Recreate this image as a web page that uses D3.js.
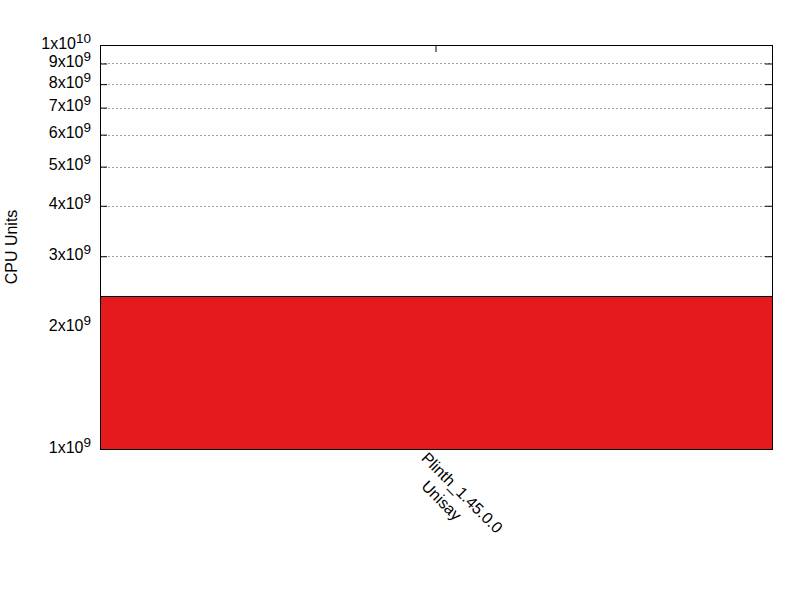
<!DOCTYPE html>
<html>
<head>
<meta charset="utf-8">
<script src="https://cdn.jsdelivr.net/npm/d3@7/dist/d3.min.js"></script>
<style>
  html, body { margin: 0; padding: 0; background: #fff; }
  svg { display: block; font-family: "Liberation Sans", Arial, sans-serif; }
</style>
</head>
<body>
<svg id="chart" width="800" height="600"></svg>
<script>
// ---- data ----
const categories = ["Plinth_1.45.0.0\nUnisay"];
const cpuUnits = [2.385e9];
const yTickValues = [1e9, 2e9, 3e9, 4e9, 5e9, 6e9, 7e9, 8e9, 9e9, 1e10];
const yTickMantissa = ["1", "2", "3", "4", "5", "6", "7", "8", "9", "1"];
const yTickExponent = ["9", "9", "9", "9", "9", "9", "9", "9", "9", "10"];
const yAxisTitle = "CPU Units";

(function () {
// ---- layout ----
const mLeft = 100, mRight = 772, mTop = 45, mBottom = 449;

const svg = d3.select("#chart");

const x = d3.scaleBand().domain(categories).range([mLeft, mRight]).padding(0);
const y = d3.scaleLog().domain([1e9, 1e10]).range([mBottom, mTop]);

// grid lines
svg.append("g").attr("class", "grid")
  .selectAll("line")
  .data(yTickValues.filter(v => v > 1e9 && v < 1e10))
  .join("line")
  .attr("x1", mLeft).attr("x2", mRight)
  .attr("y1", d => Math.round(y(d)) + 0.5)
  .attr("y2", d => Math.round(y(d)) + 0.5)
  .attr("stroke", "#a0a0a0")
  .attr("stroke-width", 1)
  .attr("stroke-dasharray", "2,2");

// left axis
const yAxisL = d3.axisLeft(y).tickValues(yTickValues).tickSize(-7).tickPadding(9).tickFormat(() => "");
const gL = svg.append("g").attr("transform", `translate(${mLeft},0)`).call(yAxisL);
gL.select(".domain").remove();
gL.selectAll(".tick line").attr("stroke", "#000");
gL.selectAll(".tick text")
  .attr("font-size", 16)
  .attr("fill", "#000")
  .attr("font-family", "Liberation Sans, Arial, sans-serif")
  .attr("dy", "0.2em")
  .each(function (d) {
    const t = d3.select(this);
    const idx = yTickValues.indexOf(d);
    t.text(null);
    t.append("tspan").text(yTickMantissa[idx] + "x10");
    t.append("tspan").attr("font-size", 13.5).attr("dy", -6).text(yTickExponent[idx]);
  });

// right axis
const yAxisR = d3.axisRight(y).tickValues(yTickValues).tickSize(-7).tickFormat(() => "");
const gR = svg.append("g").attr("transform", `translate(${mRight},0)`).call(yAxisR);
gR.select(".domain").remove();
gR.selectAll(".tick line").attr("stroke", "#000");

// top / bottom x ticks
const xAxisT = d3.axisTop(x).tickSize(-7).tickFormat(() => "");
const gT = svg.append("g").attr("transform", `translate(0,${mTop})`).call(xAxisT);
gT.select(".domain").remove();
gT.selectAll(".tick line").attr("stroke", "#000");
const xAxisB = d3.axisBottom(x).tickSize(-7).tickFormat(() => "");
const gB = svg.append("g").attr("transform", `translate(0,${mBottom})`).call(xAxisB);
gB.select(".domain").remove();
gB.selectAll(".tick line").attr("stroke", "#000");

// border
svg.append("rect")
  .attr("x", mLeft + 0.5).attr("y", mTop + 0.5)
  .attr("width", mRight - mLeft).attr("height", mBottom - mTop)
  .attr("fill", "none").attr("stroke", "#000").attr("stroke-width", 1);

// bars
svg.append("g").selectAll("rect")
  .data(categories.map((c, i) => ({ c, v: cpuUnits[i] })))
  .join("rect")
  .attr("x", d => x(d.c) + 0.5)
  .attr("width", x.bandwidth())
  .attr("y", d => Math.round(y(d.v)) + 0.5)
  .attr("height", d => mBottom - Math.round(y(d.v)))
  .attr("fill", "#e41a1c")
  .attr("stroke", "#000")
  .attr("stroke-width", 1);

// x tick labels (rotated)
categories.forEach(c => {
  const cx = x(c) + x.bandwidth() / 2;
  const g = svg.append("g").attr("transform", `translate(${cx},${mBottom}) rotate(45)`);
  c.split("\n").forEach((ln, i) => {
    g.append("text")
      .attr("x", -4 + i * 20)
      .attr("y", 18 + i * 20)
      .attr("font-size", 16)
      .attr("fill", "#000")
      .text(ln);
  });
});

// y axis title
svg.append("text")
  .attr("transform", `translate(17,${(mTop + mBottom) / 2}) rotate(-90)`)
  .attr("text-anchor", "middle")
  .attr("font-size", 16)
  .attr("fill", "#000")
  .text(yAxisTitle);
})();
</script>
</body>
</html>
